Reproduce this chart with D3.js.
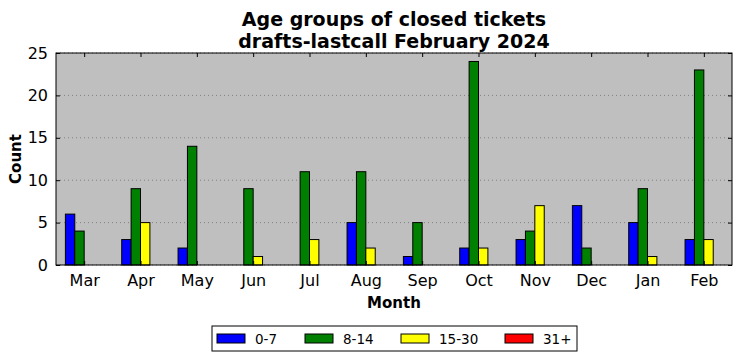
<!DOCTYPE html>
<html>
<head>
<meta charset="utf-8">
<script src="https://cdn.jsdelivr.net/npm/d3@7"></script>
<style>
  body { margin: 0; background: #fff; }
  text { font-family: "DejaVu Sans", sans-serif; }
</style>
</head>
<body>
<div id="chart"></div>
<script>
// data
var months = ["Mar", "Apr", "May", "Jun", "Jul", "Aug", "Sep", "Oct", "Nov", "Dec", "Jan", "Feb"];
var groups = ["0-7", "8-14", "15-30", "31+"];
var colors = ["#0000ff", "#008000", "#ffff00", "#ff0000"];
var age_0_7   = [6, 3, 2, 0, 0, 5, 1, 2, 3, 7, 5, 3];
var age_8_14  = [4, 9, 14, 9, 11, 11, 5, 24, 4, 2, 9, 23];
var age_15_30 = [0, 5, 0, 1, 3, 2, 0, 2, 7, 0, 1, 3];
var age_31    = [0, 0, 0, 0, 0, 0, 0, 0, 0, 0, 0, 0];
var yTicks = [0, 5, 10, 15, 20, 25];

var series = [age_0_7, age_8_14, age_15_30, age_31];

var width = 742, height = 361;
var margin = {top: 53, right: 10, bottom: 96, left: 56};
var w = width - margin.left - margin.right;
var h = height - margin.top - margin.bottom;
var barW = 1 / 6; // in month units

var svg = d3.select("#chart").append("svg")
    .attr("width", width)
    .attr("height", height);

var g = svg.append("g")
    .attr("transform", "translate(" + margin.left + "," + margin.top + ")");

// month index scale, ticks at integer positions
var x = d3.scaleLinear().domain([-0.5, months.length - 0.5]).range([0, w]);
var y = d3.scaleLinear().domain([0, 25]).range([h, 0]);

// background
g.append("rect")
    .attr("width", w).attr("height", h)
    .attr("fill", "#bfbfbf");

// dotted horizontal grid
g.selectAll("line.grid")
    .data(yTicks)
    .enter().append("line")
    .attr("class", "grid")
    .attr("x1", 0).attr("x2", w)
    .attr("y1", function(d) { return y(d); })
    .attr("y2", function(d) { return y(d); })
    .attr("stroke", "#555")
    .attr("stroke-width", 0.6)
    .attr("stroke-dasharray", "1,3");

// bars, one group per age bucket
series.forEach(function(vals, k) {
    g.selectAll("rect.s" + k)
        .data(vals)
        .enter().append("rect")
        .attr("class", "s" + k)
        .attr("x", function(d, i) { return x(i + (k - 2) * barW); })
        .attr("width", x(barW) - x(0))
        .attr("y", function(d) { return y(d); })
        .attr("height", function(d) { return y(0) - y(d); })
        .attr("fill", colors[k])
        .attr("stroke", "#000")
        .attr("stroke-width", 1);
});

// axes (ticks inward, matplotlib classic)
var xAxis = d3.axisBottom(x)
    .tickValues(d3.range(months.length))
    .tickFormat(function(d) { return months[d]; })
    .tickSizeInner(-4).tickSizeOuter(0).tickPadding(10);
var xAxisTop = d3.axisTop(x)
    .tickValues(d3.range(months.length))
    .tickFormat("")
    .tickSizeInner(-4).tickSizeOuter(0);
var yAxis = d3.axisLeft(y)
    .tickValues(yTicks)
    .tickSizeInner(-4).tickSizeOuter(0).tickPadding(8);
var yAxisRight = d3.axisRight(y)
    .tickValues(yTicks)
    .tickFormat("")
    .tickSizeInner(-4).tickSizeOuter(0);

var gx = g.append("g").attr("transform", "translate(0," + h + ")").call(xAxis);
var gxt = g.append("g").call(xAxisTop);
var gy = g.append("g").call(yAxis);
var gyr = g.append("g").attr("transform", "translate(" + w + ",0)").call(yAxisRight);

[gx, gxt, gy, gyr].forEach(function(a) {
    a.select(".domain").remove();
    a.selectAll("text")
        .attr("fill", "#000")
        .style("font-family", "DejaVu Sans")
        .style("font-size", "16px");
    a.selectAll(".tick line").attr("stroke", "#000");
});

// frame
g.append("rect")
    .attr("width", w).attr("height", h)
    .attr("fill", "none")
    .attr("stroke", "#000")
    .attr("stroke-width", 1);

// titles
svg.append("text")
    .attr("x", margin.left + w / 2).attr("y", 26)
    .attr("text-anchor", "middle")
    .style("font-size", "19px").style("font-weight", "bold")
    .text("Age groups of closed tickets");
svg.append("text")
    .attr("x", margin.left + w / 2).attr("y", 48)
    .attr("text-anchor", "middle")
    .style("font-size", "19px").style("font-weight", "bold")
    .text("drafts-lastcall February 2024");

svg.append("text")
    .attr("x", margin.left + w / 2).attr("y", 308)
    .attr("text-anchor", "middle")
    .style("font-size", "15px").style("font-weight", "bold")
    .text("Month");

svg.append("text")
    .attr("transform", "translate(21," + (margin.top + h / 2) + ") rotate(-90)")
    .attr("text-anchor", "middle")
    .style("font-size", "15px").style("font-weight", "bold")
    .text("Count");

// legend
var legend = svg.append("g").attr("transform", "translate(212,326)");
legend.append("rect")
    .attr("width", 365).attr("height", 25)
    .attr("fill", "#fff").attr("stroke", "#000").attr("stroke-width", 1);

var legendX = [5, 93, 189, 293];
var items = legend.selectAll("g.item")
    .data(groups)
    .enter().append("g")
    .attr("class", "item")
    .attr("transform", function(d, i) { return "translate(" + legendX[i] + ",0)"; });
items.append("rect")
    .attr("y", 8).attr("width", 28).attr("height", 9)
    .attr("fill", function(d, i) { return colors[i]; })
    .attr("stroke", "#000").attr("stroke-width", 1);
items.append("text")
    .attr("x", 38).attr("y", 17.5)
    .style("font-size", "13.5px")
    .text(function(d) { return d; });
</script>
</body>
</html>
